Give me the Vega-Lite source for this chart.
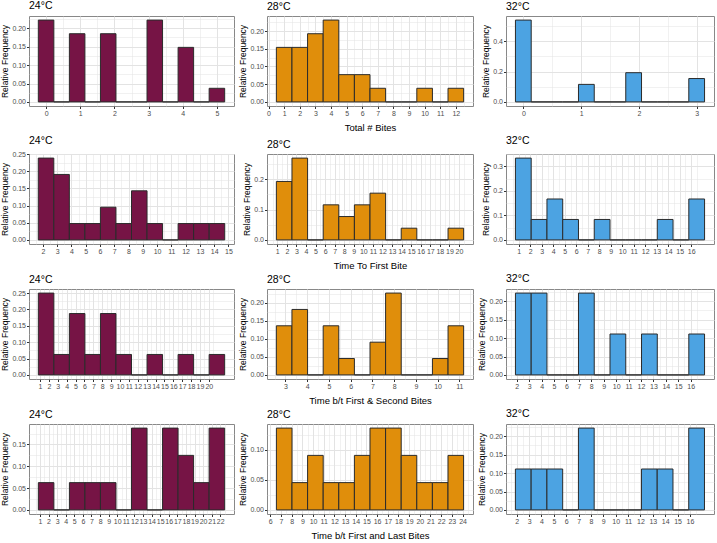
{
"$schema": "https://vega.github.io/schema/vega-lite/v6.json",
"padding": {"left": 0, "top": 0, "right": 0, "bottom": 0},
"background": "white",
"datasets": {
"p11": [{"start":-0.2273,"end":0.2273,"freq":0.2222},{"start":0.2273,"end":0.6818,"freq":0},{"start":0.6818,"end":1.1364,"freq":0.1852},{"start":1.1364,"end":1.5909,"freq":0},{"start":1.5909,"end":2.0455,"freq":0.1852},{"start":2.0455,"end":2.5,"freq":0},{"start":2.5,"end":2.9545,"freq":0},{"start":2.9545,"end":3.4091,"freq":0.2222},{"start":3.4091,"end":3.8636,"freq":0},{"start":3.8636,"end":4.3182,"freq":0.1481},{"start":4.3182,"end":4.7727,"freq":0},{"start":4.7727,"end":5.2273,"freq":0.037}],
"p12": [{"start":0.5,"end":1.5,"freq":0.1538},{"start":1.5,"end":2.5,"freq":0.1538},{"start":2.5,"end":3.5,"freq":0.1923},{"start":3.5,"end":4.5,"freq":0.2308},{"start":4.5,"end":5.5,"freq":0.0769},{"start":5.5,"end":6.5,"freq":0.0769},{"start":6.5,"end":7.5,"freq":0.0385},{"start":7.5,"end":8.5,"freq":0},{"start":8.5,"end":9.5,"freq":0},{"start":9.5,"end":10.5,"freq":0.0385},{"start":10.5,"end":11.5,"freq":0},{"start":11.5,"end":12.5,"freq":0.0385}],
"p13": [{"start":-0.1364,"end":0.1364,"freq":0.5385},{"start":0.1364,"end":0.4091,"freq":0},{"start":0.4091,"end":0.6818,"freq":0},{"start":0.6818,"end":0.9545,"freq":0},{"start":0.9545,"end":1.2273,"freq":0.1154},{"start":1.2273,"end":1.5,"freq":0},{"start":1.5,"end":1.7727,"freq":0},{"start":1.7727,"end":2.0455,"freq":0.1923},{"start":2.0455,"end":2.3182,"freq":0},{"start":2.3182,"end":2.5909,"freq":0},{"start":2.5909,"end":2.8636,"freq":0},{"start":2.8636,"end":3.1364,"freq":0.1538}],
"p21": [{"start":1.68,"end":2.768,"freq":0.2381},{"start":2.768,"end":3.857,"freq":0.1905},{"start":3.857,"end":4.945,"freq":0.0476},{"start":4.945,"end":6.033,"freq":0.0476},{"start":6.033,"end":7.122,"freq":0.0952},{"start":7.122,"end":8.21,"freq":0.0476},{"start":8.21,"end":9.298,"freq":0.1429},{"start":9.298,"end":10.386,"freq":0.0476},{"start":10.386,"end":11.475,"freq":0},{"start":11.475,"end":12.563,"freq":0.0476},{"start":12.563,"end":13.651,"freq":0.0476},{"start":13.651,"end":14.74,"freq":0.0476}],
"p22": [{"start":0.9,"end":2.533,"freq":0.1923},{"start":2.533,"end":4.165,"freq":0.2692},{"start":4.165,"end":5.798,"freq":0},{"start":5.798,"end":7.43,"freq":0.1154},{"start":7.43,"end":9.063,"freq":0.0769},{"start":9.063,"end":10.695,"freq":0.1154},{"start":10.695,"end":12.328,"freq":0.1538},{"start":12.328,"end":13.96,"freq":0},{"start":13.96,"end":15.593,"freq":0.0385},{"start":15.593,"end":17.225,"freq":0},{"start":17.225,"end":18.858,"freq":0},{"start":18.858,"end":20.49,"freq":0.0385}],
"p23": [{"start":0.71,"end":2.081,"freq":0.3333},{"start":2.081,"end":3.452,"freq":0.0833},{"start":3.452,"end":4.822,"freq":0.1667},{"start":4.822,"end":6.193,"freq":0.0833},{"start":6.193,"end":7.564,"freq":0},{"start":7.564,"end":8.935,"freq":0.0833},{"start":8.935,"end":10.306,"freq":0},{"start":10.306,"end":11.677,"freq":0},{"start":11.677,"end":13.047,"freq":0},{"start":13.047,"end":14.418,"freq":0.0833},{"start":14.418,"end":15.789,"freq":0},{"start":15.789,"end":17.16,"freq":0.1667}],
"p31": [{"start":0.81,"end":2.558,"freq":0.25},{"start":2.558,"end":4.305,"freq":0.0625},{"start":4.305,"end":6.053,"freq":0.1875},{"start":6.053,"end":7.8,"freq":0.0625},{"start":7.8,"end":9.548,"freq":0.1875},{"start":9.548,"end":11.295,"freq":0.0625},{"start":11.295,"end":13.043,"freq":0},{"start":13.043,"end":14.79,"freq":0.0625},{"start":14.79,"end":16.538,"freq":0},{"start":16.538,"end":18.285,"freq":0.0625},{"start":18.285,"end":20.033,"freq":0},{"start":20.033,"end":21.78,"freq":0.0625}],
"p32": [{"start":2.58,"end":3.298,"freq":0.1364},{"start":3.298,"end":4.017,"freq":0.1818},{"start":4.017,"end":4.735,"freq":0},{"start":4.735,"end":5.453,"freq":0.1364},{"start":5.453,"end":6.172,"freq":0.0455},{"start":6.172,"end":6.89,"freq":0},{"start":6.89,"end":7.608,"freq":0.0909},{"start":7.608,"end":8.327,"freq":0.2273},{"start":8.327,"end":9.045,"freq":0},{"start":9.045,"end":9.763,"freq":0},{"start":9.763,"end":10.482,"freq":0.0455},{"start":10.482,"end":11.2,"freq":0.1364}],
"p33": [{"start":1.89,"end":3.159,"freq":0.2222},{"start":3.159,"end":4.428,"freq":0.2222},{"start":4.428,"end":5.698,"freq":0},{"start":5.698,"end":6.967,"freq":0},{"start":6.967,"end":8.236,"freq":0.2222},{"start":8.236,"end":9.505,"freq":0},{"start":9.505,"end":10.774,"freq":0.1111},{"start":10.774,"end":12.044,"freq":0},{"start":12.044,"end":13.313,"freq":0.1111},{"start":13.313,"end":14.582,"freq":0},{"start":14.582,"end":15.851,"freq":0},{"start":15.851,"end":17.12,"freq":0.1111}],
"p41": [{"start":0.81,"end":2.618,"freq":0.0625},{"start":2.618,"end":4.427,"freq":0},{"start":4.427,"end":6.235,"freq":0.0625},{"start":6.235,"end":8.043,"freq":0.0625},{"start":8.043,"end":9.852,"freq":0.0625},{"start":9.852,"end":11.66,"freq":0},{"start":11.66,"end":13.468,"freq":0.1875},{"start":13.468,"end":15.277,"freq":0},{"start":15.277,"end":17.085,"freq":0.1875},{"start":17.085,"end":18.893,"freq":0.125},{"start":18.893,"end":20.702,"freq":0.0625},{"start":20.702,"end":22.51,"freq":0.1875}],
"p42": [{"start":6.57,"end":8.031,"freq":0.1364},{"start":8.031,"end":9.492,"freq":0.0455},{"start":9.492,"end":10.952,"freq":0.0909},{"start":10.952,"end":12.413,"freq":0.0455},{"start":12.413,"end":13.874,"freq":0.0455},{"start":13.874,"end":15.335,"freq":0.0909},{"start":15.335,"end":16.796,"freq":0.1364},{"start":16.796,"end":18.257,"freq":0.1364},{"start":18.257,"end":19.717,"freq":0.0909},{"start":19.717,"end":21.178,"freq":0.0455},{"start":21.178,"end":22.639,"freq":0.0455},{"start":22.639,"end":24.1,"freq":0.0909}],
"p43": [{"start":1.89,"end":3.164,"freq":0.1111},{"start":3.164,"end":4.438,"freq":0.1111},{"start":4.438,"end":5.713,"freq":0.1111},{"start":5.713,"end":6.987,"freq":0},{"start":6.987,"end":8.261,"freq":0.2222},{"start":8.261,"end":9.535,"freq":0},{"start":9.535,"end":10.809,"freq":0},{"start":10.809,"end":12.084,"freq":0},{"start":12.084,"end":13.358,"freq":0.1111},{"start":13.358,"end":14.632,"freq":0.1111},{"start":14.632,"end":15.906,"freq":0},{"start":15.906,"end":17.18,"freq":0.2222}]
},
"vconcat": [
{"hconcat": [
{"title": "24°C", "width": 205, "height": 90, "data": {"name": "p11"},
 "mark": {"type": "bar", "fill": "#761445", "stroke": "#2b2b2b", "strokeWidth": 1},
 "encoding": {
  "x": {"field": "start", "type": "quantitative", "title": null, "scale": {"domain": [-0.5, 5.5], "nice": false},
   "axis": {"values": [0,0.5,1,1.5,2,2.5,3,3.5,4,4.5,5], "labelExpr": "datum.value % 1 != 0 ? '' : format(datum.value, 'd')", "gridWidth": {"condition": {"test": "datum.value % 1 != 0", "value": 0.5}, "value": 1}, "tickOpacity": {"condition": {"test": "datum.value % 1 != 0", "value": 0}, "value": 1}}},
  "x2": {"field": "end"},
  "y": {"field": "freq", "type": "quantitative", "title": "Relative Frequency", "scale": {"domain": [-0.0111, 0.2333], "nice": false},
   "axis": {"values": [0,0.025,0.05,0.075,0.1,0.125,0.15,0.175,0.2,0.225], "labelExpr": "abs(datum.value*20 - round(datum.value*20)) > 0.01 ? '' : format(datum.value, '.2f')", "gridWidth": {"condition": {"test": "abs(datum.value*20 - round(datum.value*20)) > 0.01", "value": 0.5}, "value": 1}, "tickOpacity": {"condition": {"test": "abs(datum.value*20 - round(datum.value*20)) > 0.01", "value": 0}, "value": 1}}},
  "y2": {"datum": 0}
 }},
{"title": "28°C", "width": 206, "height": 90, "data": {"name": "p12"},
 "mark": {"type": "bar", "fill": "#E08E0B", "stroke": "#2b2b2b", "strokeWidth": 1},
 "encoding": {
  "x": {"field": "start", "type": "quantitative", "title": "Total # Bites", "scale": {"domain": [-0.1, 13.1], "nice": false},
   "axis": {"values": [0,0.5,1,1.5,2,2.5,3,3.5,4,4.5,5,5.5,6,6.5,7,7.5,8,8.5,9,9.5,10,10.5,11,11.5,12,12.5], "labelExpr": "datum.value % 1 != 0 ? '' : format(datum.value, 'd')", "gridWidth": {"condition": {"test": "datum.value % 1 != 0", "value": 0.5}, "value": 1}, "tickOpacity": {"condition": {"test": "datum.value % 1 != 0", "value": 0}, "value": 1}}},
  "x2": {"field": "end"},
  "y": {"field": "freq", "type": "quantitative", "title": "Relative Frequency", "scale": {"domain": [-0.0115, 0.2423], "nice": false},
   "axis": {"values": [0,0.025,0.05,0.075,0.1,0.125,0.15,0.175,0.2,0.225], "labelExpr": "abs(datum.value*20 - round(datum.value*20)) > 0.01 ? '' : format(datum.value, '.2f')", "gridWidth": {"condition": {"test": "abs(datum.value*20 - round(datum.value*20)) > 0.01", "value": 0.5}, "value": 1}, "tickOpacity": {"condition": {"test": "abs(datum.value*20 - round(datum.value*20)) > 0.01", "value": 0}, "value": 1}}},
  "y2": {"datum": 0}
 }},
{"title": "32°C", "width": 208, "height": 90, "data": {"name": "p13"},
 "mark": {"type": "bar", "fill": "#4CA3E2", "stroke": "#2b2b2b", "strokeWidth": 1},
 "encoding": {
  "x": {"field": "start", "type": "quantitative", "title": null, "scale": {"domain": [-0.3, 3.3], "nice": false},
   "axis": {"values": [0,0.5,1,1.5,2,2.5,3], "labelExpr": "datum.value % 1 != 0 ? '' : format(datum.value, 'd')", "gridWidth": {"condition": {"test": "datum.value % 1 != 0", "value": 0.5}, "value": 1}, "tickOpacity": {"condition": {"test": "datum.value % 1 != 0", "value": 0}, "value": 1}}},
  "x2": {"field": "end"},
  "y": {"field": "freq", "type": "quantitative", "title": "Relative Frequency", "scale": {"domain": [-0.0269, 0.5654], "nice": false},
   "axis": {"values": [0,0.1,0.2,0.3,0.4,0.5], "labelExpr": "abs(datum.value*5 - round(datum.value*5)) > 0.01 ? '' : format(datum.value, '.1f')", "gridWidth": {"condition": {"test": "abs(datum.value*5 - round(datum.value*5)) > 0.01", "value": 0.5}, "value": 1}, "tickOpacity": {"condition": {"test": "abs(datum.value*5 - round(datum.value*5)) > 0.01", "value": 0}, "value": 1}}},
  "y2": {"datum": 0}
 }}
], "spacing": 33, "bounds": "flush"},
{"hconcat": [
{"title": "24°C", "width": 205, "height": 90, "data": {"name": "p21"},
 "mark": {"type": "bar", "fill": "#761445", "stroke": "#2b2b2b", "strokeWidth": 1},
 "encoding": {
  "x": {"field": "start", "type": "quantitative", "title": null, "scale": {"domain": [1.03, 15.39], "nice": false},
   "axis": {"values": [1,1.5,2,2.5,3,3.5,4,4.5,5,5.5,6,6.5,7,7.5,8,8.5,9,9.5,10,10.5,11,11.5,12,12.5,13,13.5,14,14.5,15], "labelExpr": "datum.value % 1 != 0 ? '' : format(datum.value, 'd')", "gridWidth": {"condition": {"test": "datum.value % 1 != 0", "value": 0.5}, "value": 1}, "tickOpacity": {"condition": {"test": "datum.value % 1 != 0", "value": 0}, "value": 1}}},
  "x2": {"field": "end"},
  "y": {"field": "freq", "type": "quantitative", "title": "Relative Frequency", "scale": {"domain": [-0.0119, 0.25], "nice": false},
   "axis": {"values": [0,0.025,0.05,0.075,0.1,0.125,0.15,0.175,0.2,0.225,0.25], "labelExpr": "abs(datum.value*20 - round(datum.value*20)) > 0.01 ? '' : format(datum.value, '.2f')", "gridWidth": {"condition": {"test": "abs(datum.value*20 - round(datum.value*20)) > 0.01", "value": 0.5}, "value": 1}, "tickOpacity": {"condition": {"test": "abs(datum.value*20 - round(datum.value*20)) > 0.01", "value": 0}, "value": 1}}},
  "y2": {"datum": 0}
 }},
{"title": "28°C", "width": 206, "height": 90, "data": {"name": "p22"},
 "mark": {"type": "bar", "fill": "#E08E0B", "stroke": "#2b2b2b", "strokeWidth": 1},
 "encoding": {
  "x": {"field": "start", "type": "quantitative", "title": "Time To First Bite", "scale": {"domain": [-0.08, 21.47], "nice": false},
   "axis": {"values": [0.5,1,1.5,2,2.5,3,3.5,4,4.5,5,5.5,6,6.5,7,7.5,8,8.5,9,9.5,10,10.5,11,11.5,12,12.5,13,13.5,14,14.5,15,15.5,16,16.5,17,17.5,18,18.5,19,19.5,20,20.5], "labelExpr": "datum.value % 1 != 0 ? '' : format(datum.value, 'd')", "gridWidth": {"condition": {"test": "datum.value % 1 != 0", "value": 0.5}, "value": 1}, "tickOpacity": {"condition": {"test": "datum.value % 1 != 0", "value": 0}, "value": 1}}},
  "x2": {"field": "end"},
  "y": {"field": "freq", "type": "quantitative", "title": "Relative Frequency", "scale": {"domain": [-0.0135, 0.2827], "nice": false},
   "axis": {"values": [0,0.05,0.1,0.15,0.2,0.25], "labelExpr": "abs(datum.value*10 - round(datum.value*10)) > 0.01 ? '' : format(datum.value, '.1f')", "gridWidth": {"condition": {"test": "abs(datum.value*10 - round(datum.value*10)) > 0.01", "value": 0.5}, "value": 1}, "tickOpacity": {"condition": {"test": "abs(datum.value*10 - round(datum.value*10)) > 0.01", "value": 0}, "value": 1}}},
  "y2": {"datum": 0}
 }},
{"title": "32°C", "width": 208, "height": 90, "data": {"name": "p23"},
 "mark": {"type": "bar", "fill": "#4CA3E2", "stroke": "#2b2b2b", "strokeWidth": 1},
 "encoding": {
  "x": {"field": "start", "type": "quantitative", "title": null, "scale": {"domain": [-0.11, 17.98], "nice": false},
   "axis": {"values": [0.5,1,1.5,2,2.5,3,3.5,4,4.5,5,5.5,6,6.5,7,7.5,8,8.5,9,9.5,10,10.5,11,11.5,12,12.5,13,13.5,14,14.5,15,15.5,16,16.5], "labelExpr": "datum.value % 1 != 0 ? '' : format(datum.value, 'd')", "gridWidth": {"condition": {"test": "datum.value % 1 != 0", "value": 0.5}, "value": 1}, "tickOpacity": {"condition": {"test": "datum.value % 1 != 0", "value": 0}, "value": 1}}},
  "x2": {"field": "end"},
  "y": {"field": "freq", "type": "quantitative", "title": "Relative Frequency", "scale": {"domain": [-0.0167, 0.35], "nice": false},
   "axis": {"values": [0,0.05,0.1,0.15,0.2,0.25,0.3,0.35], "labelExpr": "abs(datum.value*10 - round(datum.value*10)) > 0.01 ? '' : format(datum.value, '.1f')", "gridWidth": {"condition": {"test": "abs(datum.value*10 - round(datum.value*10)) > 0.01", "value": 0.5}, "value": 1}, "tickOpacity": {"condition": {"test": "abs(datum.value*10 - round(datum.value*10)) > 0.01", "value": 0}, "value": 1}}},
  "y2": {"datum": 0}
 }}
], "spacing": 33, "bounds": "flush"},
{"hconcat": [
{"title": "24°C", "width": 205, "height": 90, "data": {"name": "p31"},
 "mark": {"type": "bar", "fill": "#761445", "stroke": "#2b2b2b", "strokeWidth": 1},
 "encoding": {
  "x": {"field": "start", "type": "quantitative", "title": null, "scale": {"domain": [-0.24, 22.83], "nice": false},
   "axis": {"values": [0.5,1,1.5,2,2.5,3,3.5,4,4.5,5,5.5,6,6.5,7,7.5,8,8.5,9,9.5,10,10.5,11,11.5,12,12.5,13,13.5,14,14.5,15,15.5,16,16.5,17,17.5,18,18.5,19,19.5,20,20.5], "labelExpr": "datum.value % 1 != 0 ? '' : format(datum.value, 'd')", "gridWidth": {"condition": {"test": "datum.value % 1 != 0", "value": 0.5}, "value": 1}, "tickOpacity": {"condition": {"test": "datum.value % 1 != 0", "value": 0}, "value": 1}}},
  "x2": {"field": "end"},
  "y": {"field": "freq", "type": "quantitative", "title": "Relative Frequency", "scale": {"domain": [-0.0125, 0.2625], "nice": false},
   "axis": {"values": [0,0.025,0.05,0.075,0.1,0.125,0.15,0.175,0.2,0.225,0.25], "labelExpr": "abs(datum.value*20 - round(datum.value*20)) > 0.01 ? '' : format(datum.value, '.2f')", "gridWidth": {"condition": {"test": "abs(datum.value*20 - round(datum.value*20)) > 0.01", "value": 0.5}, "value": 1}, "tickOpacity": {"condition": {"test": "abs(datum.value*20 - round(datum.value*20)) > 0.01", "value": 0}, "value": 1}}},
  "y2": {"datum": 0}
 }},
{"title": "28°C", "width": 206, "height": 90, "data": {"name": "p32"},
 "mark": {"type": "bar", "fill": "#E08E0B", "stroke": "#2b2b2b", "strokeWidth": 1},
 "encoding": {
  "x": {"field": "start", "type": "quantitative", "title": "Time b/t First & Second Bites", "scale": {"domain": [2.15, 11.63], "nice": false},
   "axis": {"values": [2.5,3,3.5,4,4.5,5,5.5,6,6.5,7,7.5,8,8.5,9,9.5,10,10.5,11,11.5], "labelExpr": "datum.value % 1 != 0 ? '' : format(datum.value, 'd')", "gridWidth": {"condition": {"test": "datum.value % 1 != 0", "value": 0.5}, "value": 1}, "tickOpacity": {"condition": {"test": "datum.value % 1 != 0", "value": 0}, "value": 1}}},
  "x2": {"field": "end"},
  "y": {"field": "freq", "type": "quantitative", "title": "Relative Frequency", "scale": {"domain": [-0.0114, 0.2386], "nice": false},
   "axis": {"values": [0,0.025,0.05,0.075,0.1,0.125,0.15,0.175,0.2,0.225], "labelExpr": "abs(datum.value*20 - round(datum.value*20)) > 0.01 ? '' : format(datum.value, '.2f')", "gridWidth": {"condition": {"test": "abs(datum.value*20 - round(datum.value*20)) > 0.01", "value": 0.5}, "value": 1}, "tickOpacity": {"condition": {"test": "abs(datum.value*20 - round(datum.value*20)) > 0.01", "value": 0}, "value": 1}}},
  "y2": {"datum": 0}
 }},
{"title": "32°C", "width": 208, "height": 90, "data": {"name": "p33"},
 "mark": {"type": "bar", "fill": "#4CA3E2", "stroke": "#2b2b2b", "strokeWidth": 1},
 "encoding": {
  "x": {"field": "start", "type": "quantitative", "title": null, "scale": {"domain": [1.13, 17.88], "nice": false},
   "axis": {"values": [1.5,2,2.5,3,3.5,4,4.5,5,5.5,6,6.5,7,7.5,8,8.5,9,9.5,10,10.5,11,11.5,12,12.5,13,13.5,14,14.5,15,15.5,16,16.5], "labelExpr": "datum.value % 1 != 0 ? '' : format(datum.value, 'd')", "gridWidth": {"condition": {"test": "datum.value % 1 != 0", "value": 0.5}, "value": 1}, "tickOpacity": {"condition": {"test": "datum.value % 1 != 0", "value": 0}, "value": 1}}},
  "x2": {"field": "end"},
  "y": {"field": "freq", "type": "quantitative", "title": "Relative Frequency", "scale": {"domain": [-0.0111, 0.2333], "nice": false},
   "axis": {"values": [0,0.025,0.05,0.075,0.1,0.125,0.15,0.175,0.2,0.225], "labelExpr": "abs(datum.value*20 - round(datum.value*20)) > 0.01 ? '' : format(datum.value, '.2f')", "gridWidth": {"condition": {"test": "abs(datum.value*20 - round(datum.value*20)) > 0.01", "value": 0.5}, "value": 1}, "tickOpacity": {"condition": {"test": "abs(datum.value*20 - round(datum.value*20)) > 0.01", "value": 0}, "value": 1}}},
  "y2": {"datum": 0}
 }}
], "spacing": 33, "bounds": "flush"},
{"hconcat": [
{"title": "24°C", "width": 205, "height": 90, "data": {"name": "p41"},
 "mark": {"type": "bar", "fill": "#761445", "stroke": "#2b2b2b", "strokeWidth": 1},
 "encoding": {
  "x": {"field": "start", "type": "quantitative", "title": null, "scale": {"domain": [-0.28, 23.6], "nice": false},
   "axis": {"values": [0.5,1,1.5,2,2.5,3,3.5,4,4.5,5,5.5,6,6.5,7,7.5,8,8.5,9,9.5,10,10.5,11,11.5,12,12.5,13,13.5,14,14.5,15,15.5,16,16.5,17,17.5,18,18.5,19,19.5,20,20.5,21,21.5,22,22.5], "labelExpr": "datum.value % 1 != 0 ? '' : format(datum.value, 'd')", "gridWidth": {"condition": {"test": "datum.value % 1 != 0", "value": 0.5}, "value": 1}, "tickOpacity": {"condition": {"test": "datum.value % 1 != 0", "value": 0}, "value": 1}}},
  "x2": {"field": "end"},
  "y": {"field": "freq", "type": "quantitative", "title": "Relative Frequency", "scale": {"domain": [-0.0094, 0.1969], "nice": false},
   "axis": {"values": [0,0.025,0.05,0.075,0.1,0.125,0.15,0.175], "labelExpr": "abs(datum.value*20 - round(datum.value*20)) > 0.01 ? '' : format(datum.value, '.2f')", "gridWidth": {"condition": {"test": "abs(datum.value*20 - round(datum.value*20)) > 0.01", "value": 0.5}, "value": 1}, "tickOpacity": {"condition": {"test": "abs(datum.value*20 - round(datum.value*20)) > 0.01", "value": 0}, "value": 1}}},
  "y2": {"datum": 0}
 }},
{"title": "28°C", "width": 206, "height": 90, "data": {"name": "p42"},
 "mark": {"type": "bar", "fill": "#E08E0B", "stroke": "#2b2b2b", "strokeWidth": 1},
 "encoding": {
  "x": {"field": "start", "type": "quantitative", "title": "Time b/t First and Last Bites", "scale": {"domain": [5.69, 24.98], "nice": false},
   "axis": {"values": [6,6.5,7,7.5,8,8.5,9,9.5,10,10.5,11,11.5,12,12.5,13,13.5,14,14.5,15,15.5,16,16.5,17,17.5,18,18.5,19,19.5,20,20.5,21,21.5,22,22.5,23,23.5,24,24.5], "labelExpr": "datum.value % 1 != 0 ? '' : format(datum.value, 'd')", "gridWidth": {"condition": {"test": "datum.value % 1 != 0", "value": 0.5}, "value": 1}, "tickOpacity": {"condition": {"test": "datum.value % 1 != 0", "value": 0}, "value": 1}}},
  "x2": {"field": "end"},
  "y": {"field": "freq", "type": "quantitative", "title": "Relative Frequency", "scale": {"domain": [-0.0068, 0.1432], "nice": false},
   "axis": {"values": [0,0.025,0.05,0.075,0.1,0.125], "labelExpr": "abs(datum.value*20 - round(datum.value*20)) > 0.01 ? '' : format(datum.value, '.2f')", "gridWidth": {"condition": {"test": "abs(datum.value*20 - round(datum.value*20)) > 0.01", "value": 0.5}, "value": 1}, "tickOpacity": {"condition": {"test": "abs(datum.value*20 - round(datum.value*20)) > 0.01", "value": 0}, "value": 1}}},
  "y2": {"datum": 0}
 }},
{"title": "32°C", "width": 208, "height": 90, "data": {"name": "p43"},
 "mark": {"type": "bar", "fill": "#4CA3E2", "stroke": "#2b2b2b", "strokeWidth": 1},
 "encoding": {
  "x": {"field": "start", "type": "quantitative", "title": null, "scale": {"domain": [1.13, 17.95], "nice": false},
   "axis": {"values": [1.5,2,2.5,3,3.5,4,4.5,5,5.5,6,6.5,7,7.5,8,8.5,9,9.5,10,10.5,11,11.5,12,12.5,13,13.5,14,14.5,15,15.5,16,16.5], "labelExpr": "datum.value % 1 != 0 ? '' : format(datum.value, 'd')", "gridWidth": {"condition": {"test": "datum.value % 1 != 0", "value": 0.5}, "value": 1}, "tickOpacity": {"condition": {"test": "datum.value % 1 != 0", "value": 0}, "value": 1}}},
  "x2": {"field": "end"},
  "y": {"field": "freq", "type": "quantitative", "title": "Relative Frequency", "scale": {"domain": [-0.0111, 0.2333], "nice": false},
   "axis": {"values": [0,0.025,0.05,0.075,0.1,0.125,0.15,0.175,0.2,0.225], "labelExpr": "abs(datum.value*20 - round(datum.value*20)) > 0.01 ? '' : format(datum.value, '.2f')", "gridWidth": {"condition": {"test": "abs(datum.value*20 - round(datum.value*20)) > 0.01", "value": 0.5}, "value": 1}, "tickOpacity": {"condition": {"test": "abs(datum.value*20 - round(datum.value*20)) > 0.01", "value": 0}, "value": 1}}},
  "y2": {"datum": 0}
 }}
], "spacing": 33, "bounds": "flush"}
],
"spacing": 2,
"config": {
 "font": "Liberation Sans",
 "view": {"stroke": "#888888", "strokeWidth": 1},
 "axis": {"domain": false, "gridColor": "#e3e3e3", "tickColor": "#333333", "tickSize": 2.5, "labelColor": "#4d4d4d", "labelFontSize": 7, "labelPadding": 1, "titleFontWeight": "normal", "titleColor": "#000000", "labelOverlap": false, "labelFlush": false, "labelBound": false},
 "axisY": {"titleFontSize": 8.5, "titlePadding": 2},
 "axisX": {"titleFontSize": 9.5, "titlePadding": 6},
 "title": {"anchor": "start", "frame": "group", "fontSize": 10.5, "fontWeight": "normal", "offset": 4, "color": "#000000"}
}
}
